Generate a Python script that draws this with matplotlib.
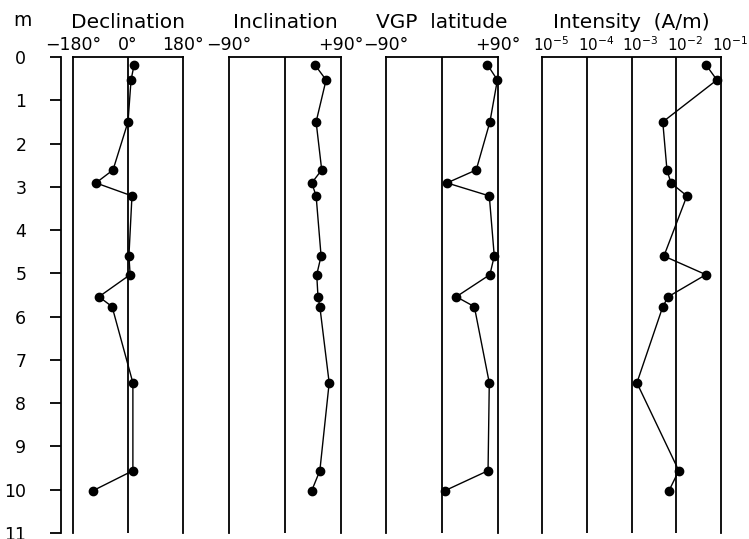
import numpy as np
import matplotlib
matplotlib.use('Agg')
import matplotlib.pyplot as plt
import matplotlib.transforms as mtransforms

plt.rcParams['font.family'] = 'DejaVu Sans'
plt.rcParams['mathtext.default'] = 'regular'

# depth of each sample (m)
depth = [0.18, 0.53, 1.50, 2.61, 2.91, 3.21, 4.60, 5.03, 5.54, 5.77, 7.53, 9.56, 10.02]
declination = [20, 10, 0, -49, -105, 13, 3, 7, -95, -52, 16, 16, -114]
inclination = [48, 66, 50, 59, 43, 50, 58, 51, 53, 56, 71, 56, 43]
vgp_lat = [73, 89, 77, 55, 8, 76, 84, 77, 23, 52, 76, 74, 5]
intensity = [0.046, 0.081, 0.0050, 0.0062, 0.0076, 0.0173, 0.0053, 0.046,
             0.0066, 0.0050, 0.00132, 0.0114, 0.0069]

titles = ['Declination', 'Inclination', 'VGP  latitude', 'Intensity  (A/m)']
dec_ticks = [-180, 0, 180]
dec_labels = ['\u2212180\u00b0', '0\u00b0', '180\u00b0']
pm90_ticks = [-90, 90]
pm90_labels = ['\u221290\u00b0', '+90\u00b0']
int_ticks = [1e-5, 1e-4, 1e-3, 1e-2, 1e-1]
int_labels = ['$10^{-5}$', '$10^{-4}$', '$10^{-3}$', '$10^{-2}$', '$10^{-1}$']
depth_ticks = list(range(0, 12))

W, H = 749, 539
fig = plt.figure(figsize=(W / 100, H / 100), dpi=100)

top, bot = 57, 533
def rect(x0, w):
    return [x0 / W, (H - bot) / H, w / W, (bot - top) / H]

fs = 12.5

# depth axis
axd = fig.add_axes(rect(61, 1))
axd.set_ylim(11, 0)
for s in ['top', 'right', 'bottom']:
    axd.spines[s].set_visible(False)
axd.spines['left'].set_linewidth(1.3)
axd.set_xticks([])
axd.set_yticks(depth_ticks)
axd.tick_params(axis='y', length=8, width=1.3, pad=17, labelsize=fs)
fig.text(22 / W, 1 - 21 / H, 'm', fontsize=fs + 1, ha='center', va='center')

panels = [
    (73, 110, declination, (-180, 180), dec_ticks, dec_labels, [0], 'linear'),
    (229, 112, inclination, (-90, 90), pm90_ticks, pm90_labels, [0], 'linear'),
    (386, 112, vgp_lat, (-90, 90), pm90_ticks, pm90_labels, [0], 'linear'),
    (542, 179, intensity, (1e-5, 1e-1), int_ticks, int_labels, [1e-4, 1e-3, 1e-2], 'log'),
]

for (x0, w, vals, lim, ticks, labels, vlines, scale), title in zip(panels, titles):
    ax = fig.add_axes(rect(x0, w))
    ax.set_xscale(scale)
    ax.set_xlim(*lim)
    ax.set_ylim(11, 0)
    ax.spines['bottom'].set_visible(False)
    for s in ['top', 'left', 'right']:
        ax.spines[s].set_linewidth(1.3)
    for v in vlines:
        ax.axvline(v, color='black', lw=1.3)
    ax.plot(vals, depth, color='black', lw=1.0, marker='o', ms=6, clip_on=False)
    ax.set_yticks([])
    ax.xaxis.set_ticks_position('top')
    ax.set_xticks(ticks)
    ax.set_xticklabels(labels)
    ax.xaxis.set_minor_locator(plt.NullLocator())
    ax.tick_params(axis='x', length=0, pad=2, labelsize=fs)
    if scale == 'log':
        ax.tick_params(axis='x', labelsize=11)
        off = mtransforms.ScaledTranslation(-9 / 100, 0, fig.dpi_scale_trans)
        for lab in ax.get_xticklabels():
            lab.set_horizontalalignment('left')
            lab.set_transform(lab.get_transform() + off)
    ax.set_title(title, fontsize=14.5, pad=21)

fig.savefig('out.png', dpi=100)
